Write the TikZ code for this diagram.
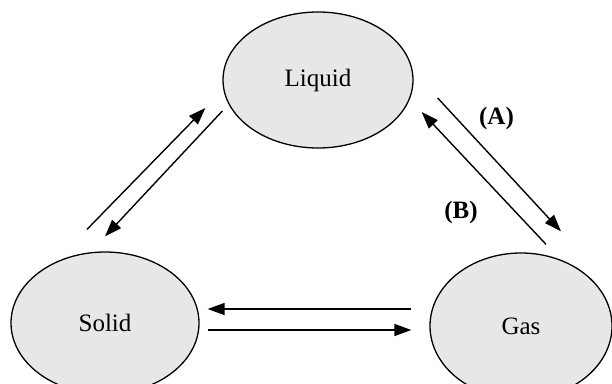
\documentclass[tikz,border=0pt]{standalone}
\usepackage{fontspec}
\setmainfont{Liberation Serif}
\usepackage{tikz}
\usetikzlibrary{arrows.meta, positioning, shapes.geometric}

\definecolor{phasegray}{RGB}{230,231,232}

\begin{document}
\begin{tikzpicture}[
    x=1pt, y=1pt,
    line width=1.4pt,
    >={Triangle[length=17pt, width=12pt]},
    every node/.style={font=\fontsize{25}{30}\selectfont},
    phase/.style={ellipse, draw, fill=phasegray, line width=1.3pt, inner sep=0pt},
    tag/.style={font=\fontsize{25}{30}\selectfont\bfseries}
]
\useasboundingbox (0,0) rectangle (612,383);

% Nodes
\node[phase, minimum width=190pt, minimum height=136pt] (Liquid) at (318,303) {Liquid};
\node[phase, minimum width=188pt, minimum height=142pt] (Solid) at (105,60) {Solid};
\node[phase, minimum width=182pt, minimum height=146pt] (Gas) at (521,57) {Gas};

% Arrows between Solid and Liquid
\draw[->] ([xshift=-18pt,yshift=22pt]Solid.north) -- ([xshift=-17pt,yshift=-28pt]Liquid.west);
\draw[->] ([yshift=-31pt]Liquid.west) -- ([yshift=15pt]Solid.north);
% Arrows between Liquid and Gas
\draw[->] ([xshift=24pt,yshift=-18pt]Liquid.east) -- ([xshift=40pt,yshift=21pt]Gas.north);
\draw[->] ([xshift=25pt,yshift=8pt]Gas.north) -- ([xshift=8pt,yshift=-32pt]Liquid.east);
% Arrows between Gas and Solid
\draw[->] ([xshift=-18pt,yshift=17pt]Gas.west) -- ([xshift=8pt,yshift=14pt]Solid.east);
\draw[->] ([xshift=8pt,yshift=-7pt]Solid.east) -- ([xshift=-18pt,yshift=-4pt]Gas.west);

% Labels
\node[tag] (A) at (496.5,265) {(A)};
\node[tag] (B) at (461,171) {(B)};

\end{tikzpicture}
\end{document}
